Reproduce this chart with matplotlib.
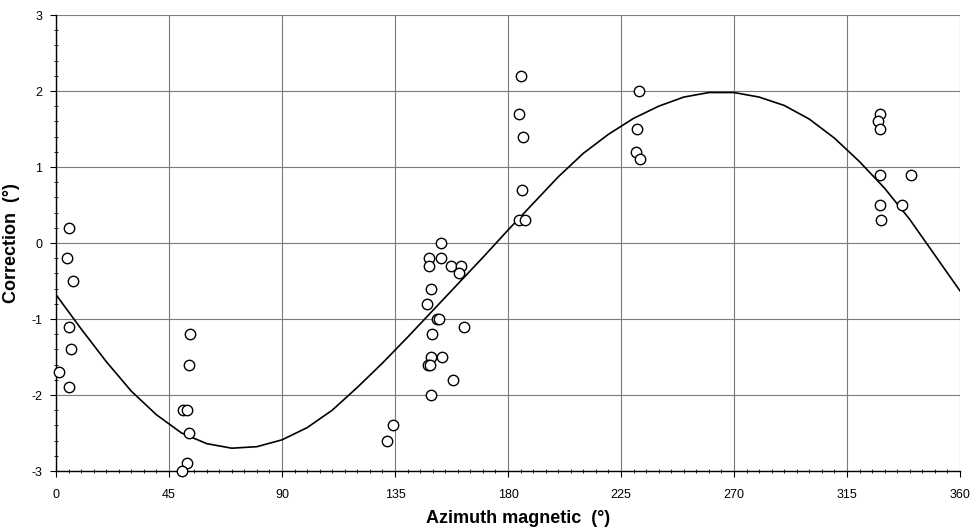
import matplotlib
matplotlib.use("Agg")
import matplotlib.pyplot as plt
from matplotlib.ticker import MultipleLocator

plt.rcParams['font.family'] = ['Liberation Sans', 'DejaVu Sans']
plt.rcParams['axes.unicode_minus'] = False

# Observed points
azimuth = [1.3, 4.3, 5.3, 6.6, 5.2, 6.1, 5.0,
           50.4, 52.0, 52.8, 52.0, 50.2, 53.4, 53.0,
           131.7, 134.1,
           153.5, 148.7, 148.4, 153.2, 157.4, 161.2, 160.6, 149.2, 147.6,
           151.6, 152.6, 162.5, 149.6, 149.3, 153.8, 148.3, 149.0, 158.1, 149.3,
           185.2, 184.4, 186.0, 185.4, 184.4, 186.8,
           232.2, 231.5, 231.0, 232.6,
           328.2, 327.2, 328.3, 328.3, 340.6, 328.2, 337.0, 328.5]
correction = [-1.7, -0.2, 0.2, -0.5, -1.1, -1.4, -1.9,
              -2.2, -2.2, -2.5, -2.9, -3.0, -1.2, -1.6,
              -2.6, -2.4,
              0.0, -0.2, -0.3, -0.2, -0.3, -0.3, -0.4, -0.6, -0.8,
              -1.0, -1.0, -1.1, -1.2, -1.5, -1.5, -1.6, -1.6, -1.8, -2.0,
              2.2, 1.7, 1.4, 0.7, 0.3, 0.3,
              2.0, 1.5, 1.2, 1.1,
              1.7, 1.6, 1.5, 0.9, 0.9, 0.5, 0.5, 0.3]

# Fitted curve, read at 10 degree steps
curve_az = list(range(0, 361, 10))
curve_val = [-0.68, -1.13, -1.56, -1.95, -2.26, -2.50, -2.64, -2.70, -2.68, -2.59,
             -2.43, -2.20, -1.90, -1.58, -1.24, -0.89, -0.54, -0.19, 0.17, 0.52,
             0.87, 1.18, 1.43, 1.64, 1.80, 1.92, 1.98, 1.98, 1.92, 1.81,
             1.63, 1.38, 1.07, 0.72, 0.31, -0.16, -0.63]

x_ticks = [0, 45, 90, 135, 180, 225, 270, 315, 360]
y_ticks = [-3, -2, -1, 0, 1, 2, 3]

fig = plt.figure(figsize=(9.77, 5.29), dpi=100)
ax = fig.add_axes([56/977, 58/529, 904/977, 456/529])

ax.set_xlim(0, 360)
ax.set_ylim(-3, 3)
ax.set_xticks(x_ticks)
ax.set_yticks(y_ticks)
ax.xaxis.set_minor_locator(MultipleLocator(5))
ax.yaxis.set_minor_locator(MultipleLocator(0.2))

ax.grid(True, which='major', color='#7a7a7a', linewidth=0.8)
ax.set_axisbelow(True)

for s in ['top', 'right']:
    ax.spines[s].set_visible(False)
for s in ['left', 'bottom']:
    ax.spines[s].set_color('black')
    ax.spines[s].set_linewidth(1.0)

ax.tick_params(axis='both', which='major', direction='out', length=4, width=0.8,
               labelsize=9, colors='black')
ax.tick_params(axis='x', which='major', pad=9)
ax.tick_params(axis='y', which='major', pad=6)
ax.tick_params(axis='both', which='minor', direction='inout', length=3, width=0.6)

ax.plot(curve_az, curve_val, color='black', linewidth=1.2, zorder=3)
ax.plot(azimuth, correction, linestyle='none', marker='o', markersize=7.5,
        markerfacecolor='white', markeredgecolor='black', markeredgewidth=1.0,
        zorder=4, clip_on=False)

ax.set_xlabel('Azimuth magnetic  (°)', fontsize=13, fontweight='bold', labelpad=4)
ax.xaxis.set_label_coords(0.511, -0.085)
ax.set_ylabel('Correction  (°)', fontsize=13, fontweight='bold', labelpad=8)

fig.savefig('out.png', dpi=100)
